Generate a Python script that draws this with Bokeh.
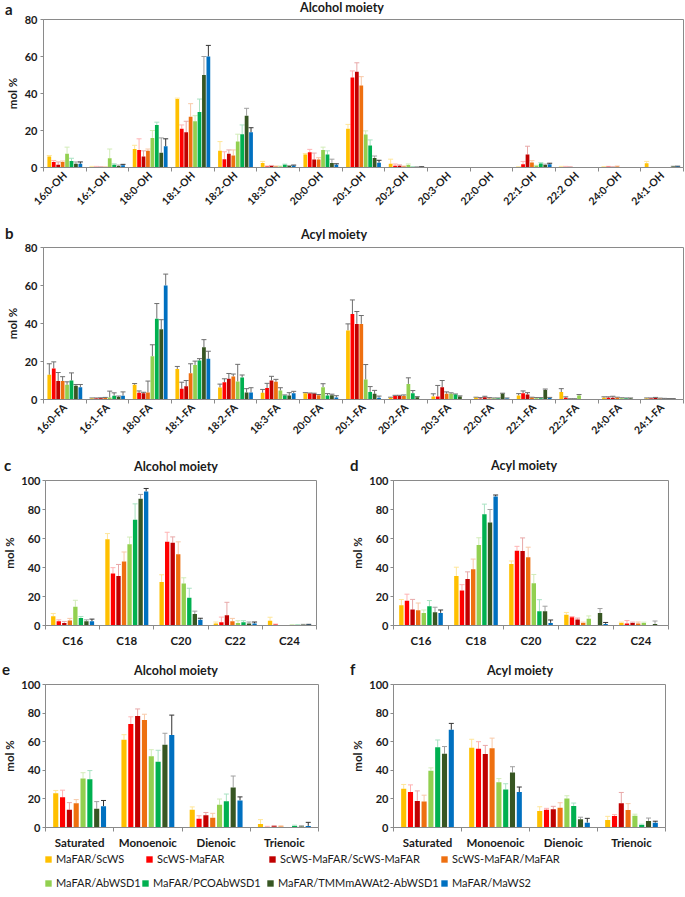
import math
from bokeh.plotting import figure
from bokeh.models import (Range1d, FixedTicker, ColumnDataSource, Whisker, TeeHead,
                          Legend, LegendItem, Div)
from bokeh.layouts import column, row
from bokeh.transform import dodge
from bokeh.embed import file_html
from bokeh.resources import INLINE

FONT = "Lato"
TXT = "#1a1a1a"
AX = "#8a8a8a"

series_names = ["MaFAR/ScWS", "ScWS-MaFAR", "ScWS-MaFAR/ScWS-MaFAR", "ScWS-MaFAR/MaFAR",
                "MaFAR/AbWSD1", "MaFAR/PCOAbWSD1", "MaFAR/TMMmAWAt2-AbWSD1", "MaFAR/MaWS2"]
colors = ["#FFC000", "#FF0000", "#C00000", "#EE7010", "#92D050", "#00B050", "#375623", "#0070C0"]
pale_err = ["#FFE699", "#FFB3B3", "#E8A8A8", "#F8C9A8", "#D2ECB8", "#A8E2C2", "#A0A0A0", "#333333"]
dark_err = ["#6E6E6E"] * 8

# ---- panel a: alcohol moiety, individual species (rows = categories, cols = series)
cats_a = ["16:0-OH", "16:1-OH", "18:0-OH", "18:1-OH", "18:2-OH", "18:3-OH", "20:0-OH", "20:1-OH",
          "20:2-OH", "20:3-OH", "22:0-OH", "22:1-OH", "22:2 OH", "24:0-OH", "24:1-OH"]
a_vals = [
    [6, 3, 1.5, 3, 7.5, 3.5, 2, 2],
    [0.3, 0.3, 0.2, 0.2, 5, 1.5, 0.8, 1.2],
    [10, 9.5, 6, 9, 16, 23, 8, 11.5],
    [37, 21, 19, 27.5, 25, 30, 50, 60],
    [9, 4.5, 7.5, 6.5, 14, 18, 28, 19],
    [2.5, 0.5, 0.8, 0.5, 0.5, 1.5, 0.8, 1],
    [7, 8.3, 4.3, 4.3, 9.5, 7, 2.5, 1.5],
    [21, 48.6, 51.8, 44.3, 17.8, 11.9, 5.2, 2.6],
    [2, 0.9, 0.9, 0.5, 1.4, 0.3, 0.2, 0.2],
    [0, 0, 0, 0, 0, 0, 0, 0],
    [0, 0, 0, 0, 0, 0, 0, 0],
    [0.2, 1.8, 7, 2.7, 0.9, 2.1, 1.3, 1.8],
    [0.3, 0.3, 0.2, 0, 0, 0, 0, 0],
    [0.3, 0.4, 0.2, 0.5, 0, 0, 0, 0],
    [2.3, 0, 0, 0, 0, 0, 0.5, 0.5],
]
a_errs = [
    [0.5, 0.8, 1.5, 0.5, 3.5, 1.5, 1, 1],
    [0.3, 0.3, 0.2, 0.2, 5, 0.5, 0.5, 0.5],
    [2, 6, 3, 1, 4, 1.5, 8, 4],
    [0.5, 2, 6, 7, 3, 7, 10, 6],
    [5, 4, 2, 3, 4, 5, 4, 2.5],
    [0.8, 0.3, 0.3, 0.3, 0.3, 0.3, 0.3, 0.3],
    [0.5, 1.5, 3.5, 1, 1.5, 2, 2, 0.5],
    [2.3, 3.6, 4.8, 4.8, 2, 3, 1, 1.3],
    [2.5, 1, 0.5, 0.3, 0.5, 0.2, 0.2, 0.2],
    [0, 0, 0, 0, 0, 0, 0, 0],
    [0, 0, 0, 0, 0, 0, 0, 0],
    [0.2, 1.5, 4.5, 1, 0.3, 0.5, 0.5, 0.5],
    [0.3, 0.3, 0.2, 0, 0, 0, 0, 0],
    [0.2, 0.2, 0.2, 0.3, 0, 0, 0, 0],
    [1, 0, 0, 0, 0, 0, 0.2, 0.2],
]

# ---- panel b: acyl moiety, individual species
cats_b = ["16:0-FA", "16:1-FA", "18:0-FA", "18:1-FA", "18:2-FA", "18:3-FA", "20:0-FA", "20:1-FA",
          "20:2-FA", "20:3-FA", "22:0-FA", "22:1-FA", "22:2-FA", "24:0-FA", "24:1-FA"]
b_vals = [
    [13, 16.3, 9.7, 9.7, 7.7, 10, 7.2, 6.5],
    [0.5, 0.5, 0.6, 0.8, 1, 2, 1.3, 2],
    [7.7, 3.5, 3.3, 3.7, 22.8, 42.5, 37, 60],
    [16.1, 5.6, 7, 13.8, 18.2, 20.5, 27.5, 21.4],
    [6.3, 9.1, 10.9, 12.1, 9.5, 11.6, 3.7, 3.7],
    [3.5, 6, 10, 9.3, 4.7, 2.1, 2.1, 3.3],
    [3.3, 3.1, 3, 2.3, 6.5, 2.1, 2.3, 1],
    [36.3, 45, 39.8, 39.8, 10.5, 3.9, 3, 0.9],
    [0.9, 1.9, 1.9, 1.9, 8.2, 3.3, 1.2, 0],
    [1.6, 1.6, 6.5, 3, 3, 2.6, 1.6, 0],
    [0.9, 0.5, 1.2, 0.5, 0.5, 0.5, 3, 0.5],
    [2.1, 3.3, 2.6, 0.9, 0.7, 0.7, 5, 0.8],
    [3.9, 0.9, 0.2, 0.2, 2.1, 0, 0, 0],
    [0.9, 0.9, 0.9, 0.9, 0.6, 0.5, 0.5, 0],
    [0.5, 0.5, 0.8, 0.4, 0.3, 0.3, 0.3, 0],
]
b_errs = [
    [5.8, 3.5, 4.5, 2.3, 1.6, 4, 0.7, 1.4],
    [0.3, 0.3, 0.3, 0.3, 3.4, 1.5, 0.5, 2],
    [0.7, 1, 0.5, 6, 6, 8, 5, 6],
    [1.3, 3.5, 3, 5, 2, 1, 4, 4],
    [1.8, 1.8, 2.8, 1.3, 9, 1.3, 2, 2.5],
    [1.8, 2.5, 2.2, 1.3, 1.5, 0.3, 1.5, 1],
    [0.3, 0.3, 0.3, 0.3, 1.8, 1, 0.5, 1],
    [3.5, 7.4, 6.5, 4.4, 7.9, 2.9, 1.8, 0.9],
    [0.3, 0.3, 0.3, 0.5, 3.2, 1.4, 0.3, 0],
    [1.4, 5.8, 3.5, 1, 0.5, 0.3, 0.3, 0],
    [0.3, 0.5, 0.5, 0.5, 0.3, 0.3, 0.3, 0.3],
    [1, 1.2, 1, 0.3, 0.3, 0.3, 0.5, 0.3],
    [1.8, 0.5, 0.2, 0.2, 0.5, 0, 0, 0],
    [0.5, 0.5, 0.8, 0.3, 0.3, 0.3, 0.3, 0],
    [0.3, 0.3, 0.3, 0.3, 0.3, 0.2, 0.2, 0],
]

# ---- panels c, d: chain length
cats_len = ["C16", "C18", "C20", "C22", "C24"]
c_vals = [
    [6.3, 2.9, 1.8, 3.4, 12.9, 5.2, 2.9, 2.9],
    [59.4, 35.9, 34.1, 44.2, 56, 72.9, 87.4, 92.5],
    [30, 57.8, 57.1, 49.2, 28.9, 19.2, 7.9, 4],
    [1.4, 2.3, 7, 2.9, 1.8, 2.3, 1.4, 1.4],
    [3.2, 0.7, 0, 0, 0.3, 0.3, 0.5, 0.5],
]
c_errs = [
    [2, 1, 1, 1.5, 4.5, 1, 1, 1.5],
    [4, 4, 8, 6.5, 5, 11, 3, 2],
    [5, 6.5, 4, 8.5, 4, 6.5, 2, 1],
    [1, 3.5, 9, 2, 1.5, 1, 1, 1],
    [2.5, 0.3, 0, 0, 0.3, 0.3, 0.3, 0.3],
]
d_vals = [
    [13.9, 17.1, 11, 10.5, 8.7, 13.2, 9.1, 8.7],
    [34.2, 24.2, 32, 38.8, 55.5, 76.7, 71, 89],
    [42.5, 51.6, 51.4, 47, 29.2, 9.8, 9.8, 1.8],
    [7.5, 5.7, 4.1, 1.8, 4.6, 0, 8.7, 1.1],
    [1.8, 1.4, 1.8, 1.4, 1.8, 0, 1.1, 0],
]
d_errs = [
    [4, 4.5, 7, 5, 2, 4, 3.5, 2],
    [6, 4, 5, 7, 5, 7, 9, 1],
    [2, 3, 9, 7, 6, 8, 3.5, 2],
    [1.5, 0.5, 1, 0.5, 2, 0, 3, 1],
    [0.5, 2, 0.5, 1, 0.5, 0, 2, 0],
]

# ---- panels e, f: saturation
cats_sat = ["Saturated", "Monoenoic", "Dienoic", "Trienoic"]
e_vals = [
    [23.9, 21.1, 12.4, 17, 34.3, 33.8, 13.1, 14.9],
    [61.4, 72.4, 77.9, 75.2, 49.9, 46, 57.9, 64.6],
    [12.4, 6.2, 8.5, 6.9, 15.9, 18.4, 28, 18.9],
    [2.5, 0.3, 0.9, 0.7, 0, 1.1, 0.7, 1.1],
]
e_errs = [
    [2, 5, 5, 2.5, 4, 6, 5, 4],
    [3.5, 5, 5, 4, 4.5, 8, 8, 14],
    [2, 2, 2, 3, 4, 5, 8, 2.5],
    [3, 0.5, 0.5, 0.5, 0, 0.5, 0.5, 2.5],
]
f_vals = [
    [27.1, 24.8, 18.6, 18.1, 39.7, 56.2, 51.6, 68.3],
    [55.7, 55, 51.4, 55.5, 31.7, 26.6, 38.5, 24.8],
    [11.5, 12.4, 12.8, 13.8, 20.2, 15.1, 5.7, 3.4],
    [5.3, 8, 17, 12.2, 8.3, 1.8, 4.6, 3.4],
]
f_errs = [
    [3, 5, 7, 4.5, 2, 5, 5, 4.5],
    [6, 5, 6, 7, 2.5, 4, 4, 3.5],
    [3, 1, 2, 3.5, 2, 2, 1.5, 3],
    [2.5, 1, 7.5, 4.5, 1, 0.5, 2, 1],
]


def header(w, h, items):
    spans = []
    for kind, x, top, txt in items:
        if kind == "letter":
            spans.append(f'<span style="position:absolute;left:{x}px;top:{top}px;font-size:15px;'
                         f'line-height:13px;white-space:nowrap;">{txt}</span>')
        else:
            spans.append(f'<span style="position:absolute;left:{x - 100}px;top:{top}px;width:200px;'
                         f'text-align:center;font-size:12.5px;line-height:13px;white-space:nowrap;">{txt}</span>')
    html = (f'<div style="position:relative;width:{w}px;height:{h}px;font-family:Lato;'
            f'font-weight:bold;color:{TXT};">' + "".join(spans) + '</div>')
    return Div(text=html, width=w, height=h, margin=0, styles={"overflow": "visible"})


def panel(cats, vals, errs, geom, ymax, yticks, pitch, bw, rotate, err_cols):
    W, H, bl, br, bt, bb = geom
    n = len(cats)
    p = figure(width=W, height=H, output_backend="svg", toolbar_location=None,
               x_range=Range1d(-0.5, n - 0.5), y_range=Range1d(0, ymax),
               min_border_left=bl, min_border_right=br, min_border_top=bt, min_border_bottom=bb)
    p.xgrid.visible = False
    p.ygrid.visible = False
    p.outline_line_color = AX
    p.background_fill_color = "white"
    p.border_fill_color = None
    idx = list(range(n))
    for k in range(8):
        v = [r[k] for r in vals]
        e = [r[k] for r in errs]
        off = (k - 3.5) * pitch
        src = ColumnDataSource(dict(x=idx, v=v))
        p.vbar(x=dodge("x", off), top="v", width=bw, source=src,
               fill_color=colors[k], line_color=None)
        keep = [i for i in idx if v[i] > 0 or e[i] > 0]
        wsrc = ColumnDataSource(dict(x=keep, v=[v[i] for i in keep],
                                     hi=[v[i] + e[i] for i in keep]))
        p.add_layout(Whisker(source=wsrc, base=dodge("x", off), lower="v", upper="hi",
                             dimension="height", line_color=err_cols[k], line_width=1,
                             upper_head=TeeHead(size=5, line_color=err_cols[k], line_width=1),
                             lower_head=None))
    xa = p.xaxis[0]
    xa.ticker = FixedTicker(ticks=idx, minor_ticks=[i - 0.5 for i in range(n + 1)])
    xa.major_label_overrides = {i: c for i, c in enumerate(cats)}
    xa.major_tick_line_color = None
    xa.major_tick_out = 4
    xa.major_tick_in = 0
    xa.minor_tick_line_color = AX
    xa.minor_tick_out = 4
    xa.minor_tick_in = 0
    xa.axis_line_color = AX
    xa.major_label_text_font = FONT
    xa.major_label_text_font_style = "bold"
    xa.major_label_text_color = TXT
    if rotate:
        xa.major_label_orientation = math.pi / 4
        xa.major_label_text_font_size = "10.5px"
        xa.major_label_standoff = 2
    else:
        xa.major_label_text_font_size = "11.5px"
        xa.major_label_standoff = 4
    ya = p.yaxis[0]
    ya.ticker = FixedTicker(ticks=yticks)
    ya.minor_tick_line_color = None
    ya.major_tick_out = 3
    ya.major_tick_in = 0
    ya.major_tick_line_color = AX
    ya.axis_line_color = AX
    ya.major_label_text_font = FONT
    ya.major_label_text_font_style = "bold"
    ya.major_label_text_font_size = "11px"
    ya.major_label_text_color = TXT
    ya.major_label_standoff = 2 if ymax == 100 else 3
    ya.axis_label = "mol %"
    ya.axis_label_text_font = FONT
    ya.axis_label_text_font_style = "bold"
    ya.axis_label_text_font_size = "11.5px"
    ya.axis_label_text_color = TXT
    ya.axis_label_standoff = 2 if ymax == 100 else 3
    return p


yt80 = [0, 20, 40, 60, 80]
yt100 = [0, 20, 40, 60, 80, 100]

# (width, height, border left, right, top, bottom)
geomA = (684, 201, 43, 1, 6, 46)
geomB = (684, 204, 43, 1, 6, 46)
geomC = (340, 176, 40, 24, 7, 22)
geomD = (344, 176, 53, 16, 7, 22)
geomE = (340, 174, 41, 22, 7, 22)
geomF = (344, 174, 53, 19, 7, 22)

hA = header(684, 13, [("letter", 5, 3, "a"), ("title", 342, 1, "Alcohol moiety")])
pA = panel(cats_a, a_vals, a_errs, geomA, 80, yt80, 0.104, 0.088, True, pale_err)
hB = header(684, 27, [("letter", 5, 13, "b"), ("title", 334, 14, "Acyl moiety")])
pB = panel(cats_b, b_vals, b_errs, geomB, 80, yt80, 0.104, 0.088, True, dark_err)
hCD = header(684, 28, [("letter", 4, 14, "c"), ("title", 176, 15, "Alcohol moiety"),
                       ("letter", 350, 14, "d"), ("title", 524, 14, "Acyl moiety")])
pC = panel(cats_len, c_vals, c_errs, geomC, 100, yt100, 0.102, 0.08, False, pale_err)
pD = panel(cats_len, d_vals, d_errs, geomD, 100, yt100, 0.102, 0.08, False, pale_err)
hEF = header(684, 28, [("letter", 2, 14, "e"), ("title", 176, 15, "Alcohol moiety"),
                       ("letter", 350, 14, "f"), ("title", 520, 15, "Acyl moiety")])
pE = panel(cats_sat, e_vals, e_errs, geomE, 100, yt100, 0.1, 0.075, False, pale_err)
pF = panel(cats_sat, f_vals, f_errs, geomF, 100, yt100, 0.1, 0.075, False, pale_err)

# ---- legend strip (its frame is aligned with the frames of panels a/b: x 43..683)
pL = figure(width=684, height=44, output_backend="svg", toolbar_location=None,
            x_range=Range1d(0, 1), y_range=Range1d(0, 1),
            x_axis_type=None, y_axis_type=None,
            min_border_left=0, min_border_right=0, min_border_top=0, min_border_bottom=0)
pL.grid.visible = False
pL.outline_line_color = None
pL.border_fill_color = None
FRAME_LEFT = 43
leg_x = [44, 145, 268, 440, 44, 141, 266, 440]
leg_y = [30, 30, 30, 30, 6, 6, 6, 6]
for k in range(8):
    r = pL.rect(x=[5], y=[5], width=0.01, height=0.01, fill_color=colors[k], line_color=None)
    lg = Legend(items=[LegendItem(label=series_names[k], renderers=[r])],
                location=(leg_x[k] - FRAME_LEFT, leg_y[k]), orientation="horizontal",
                background_fill_alpha=0, border_line_alpha=0, padding=0, margin=0, spacing=0,
                glyph_width=8, glyph_height=8, label_standoff=4, label_height=12,
                label_text_font=FONT, label_text_font_size="11px", label_text_color=TXT)
    pL.add_layout(lg)

layout = column(hA, pA, hB, pB, hCD, row(pC, pD), hEF, row(pE, pF), pL)
open("out.html", "w").write(file_html(layout, INLINE))
